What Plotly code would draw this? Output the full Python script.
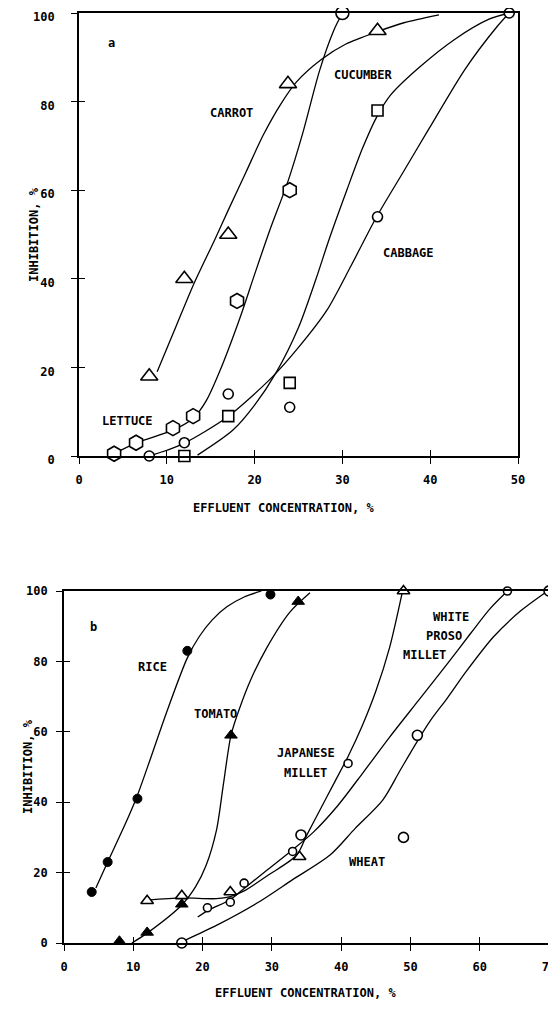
import plotly.graph_objects as go

# ---------------- Panel a data ----------------
carrot_x = [8, 12, 17, 23.8, 34]
carrot_y = [18, 40, 50, 84, 96]
carrot_cx = [8.9, 11, 13, 15.5, 17, 19, 21, 23, 24.8, 27.6, 30.4, 34, 37, 41]
carrot_cy = [19, 29, 38.5, 49, 55.5, 64, 72.5, 79.5, 84.5, 89.5, 93, 95.8, 97.8, 99.6]

lettuce_x = [4, 6.5, 10.7, 13, 18, 24]
lettuce_y = [0.5, 3, 6.3, 9, 35, 60]
lettuce_top_x = [30]
lettuce_top_y = [100]
lettuce_cx = [4, 6.6, 10.9, 13, 14.5, 16, 18.3, 20, 21.7, 23.8, 25.5, 27.4, 29, 30]
lettuce_cy = [0.5, 3, 6, 8.5, 12.5, 19, 31, 41, 50.8, 62, 73, 87, 96, 100]

cucumber_x = [12, 17, 24, 34]
cucumber_y = [0, 9, 16.5, 78]
cucumber_cx = [13.5, 17.5, 20, 22.5, 25, 27, 28.5, 30.5, 32.3, 33.9, 35.5, 38.8, 42.9, 46.7, 49]
cucumber_cy = [0.2, 5.8, 11.5, 19, 29, 40, 49, 60, 69.5, 76.5, 81.5, 87.8, 94.2, 98.6, 100]

cabbage_x = [8, 12, 17, 24, 34, 49]
cabbage_y = [0, 3, 14, 11, 54, 100]
cabbage_cx = [8, 10, 12, 16.9, 22, 25, 28.2, 31, 33.9, 36.9, 39.9, 44, 47.6, 49]
cabbage_cy = [0, 1.3, 2.9, 8.8, 17.8, 24.5, 32.8, 43, 54, 64, 74, 87.4, 96.9, 100]

# ---------------- Panel b data ----------------
rice_x = [4, 6.3, 10.6, 17.8, 29.8]
rice_y = [14.5, 23, 41, 83, 99]
rice_cx = [4.6, 6.3, 9, 10.6, 12.5, 14.8, 17.8, 19.5, 21.4, 23.5, 26, 28.5]
rice_cy = [15.6, 23, 34.5, 42, 52.5, 65.5, 81, 87, 91.8, 95.5, 98.3, 100]

tomato_x = [8, 12, 17, 24.1, 33.8]
tomato_y = [0.5, 3, 11, 59, 97]
tomato_cx = [9.8, 12, 17, 19, 20.5, 22, 23, 24.1, 25.4, 27, 29.3, 32.6, 35.5]
tomato_cy = [0, 2.8, 10.8, 16, 22, 32, 45, 59, 67, 75, 84, 94, 99.5]

jmillet_x = [12, 17, 24, 34, 49]
jmillet_y = [12, 13.4, 14.5, 24.5, 100]
jmillet_cx = [12, 17, 22, 24, 26, 29.5, 33.6, 35, 37, 39, 41, 43, 45, 47, 48.8]
jmillet_cy = [12.2, 12.8, 12.6, 13.2, 14.8, 19.3, 25, 30.5, 38, 45.5, 53, 61.5, 71.5, 84, 99.4]

wpm_x = [20.7, 24, 26, 33, 41, 64]
wpm_y = [10, 11.6, 17, 26, 51, 100]
wpm_cx = [19.3, 21, 24, 26, 29.5, 33, 36, 39.5, 43.2, 47, 51.2, 55.4, 58.7, 61.5, 64]
wpm_cy = [7.4, 9.5, 12.3, 15.5, 21, 26.5, 31.5, 39, 48.5, 58.5, 69, 79.5, 88, 95, 100]

wheat_x = [17, 34.2, 49, 51, 70]
wheat_y = [0, 30.7, 30, 59, 100]
wheat_cx = [17.6, 22, 28, 33, 38.4, 42, 46, 48.5, 50.9, 53, 55.3, 58, 62, 66, 69.5]
wheat_cy = [0.9, 5, 11.5, 18, 25, 32.5, 40.6, 49, 57, 63.5, 69.5, 77, 87, 94.5, 99.6]

ticks_a_x = [0, 10, 20, 30, 40, 50]
ticks_b_x = [0, 10, 20, 30, 40, 50, 60, 70]
ticks_y = [0, 20, 40, 60, 80, 100]

# page is 556x1009; the html body has an 8px margin
OFF = 8
W, H = 556 - OFF, 1009 - 2 * OFF
FONT = "DejaVu Sans Mono"


def fx(px):
    return (px - OFF) / W


def fy(py):
    return 1 - (py - OFF) / H


fig = go.Figure()


def curve(xs, ys, ax, dash="solid"):
    fig.add_trace(go.Scatter(x=xs, y=ys, mode="lines", xaxis=ax[0], yaxis=ax[1],
                             line=dict(color="black", width=1.3, shape="spline",
                                       smoothing=0.8, dash=dash),
                             hoverinfo="skip", showlegend=False))


def marks(xs, ys, ax, symbol, size, fill="white", lw=1.6):
    fig.add_trace(go.Scatter(x=xs, y=ys, mode="markers", xaxis=ax[0], yaxis=ax[1],
                             marker=dict(symbol=symbol, size=size, color=fill,
                                         line=dict(color="black", width=lw)),
                             cliponaxis=False, showlegend=False))


A = ("x", "y")
B = ("x2", "y2")

curve(carrot_cx, carrot_cy, A)
curve(lettuce_cx, lettuce_cy, A)
curve(cucumber_cx, cucumber_cy, A)
curve(cabbage_cx, cabbage_cy, A)
curve(rice_cx, rice_cy, B)
curve(tomato_cx, tomato_cy, B)
curve(jmillet_cx, jmillet_cy, B)
curve(wpm_cx, wpm_cy, B)
curve(wheat_cx, wheat_cy, B)

marks(carrot_x, carrot_y, A, "triangle-up", 15)
marks(lettuce_x, lettuce_y, A, "hexagon", 15)
marks(lettuce_top_x, lettuce_top_y, A, "circle", 13)
marks(cucumber_x, cucumber_y, A, "square", 11)
marks(cabbage_x, cabbage_y, A, "circle", 10)

marks(rice_x, rice_y, B, "circle", 9, fill="black", lw=1)
marks(tomato_x, tomato_y, B, "triangle-up", 11, fill="black", lw=1)
marks(jmillet_x, jmillet_y, B, "triangle-up", 11)
marks(wpm_x, wpm_y, B, "circle", 8)
marks(wheat_x, wheat_y, B, "circle", 10)

fig.add_trace(go.Scatter(x=[None], y=[None], xaxis="x3", yaxis="y3", showlegend=False))
fig.add_trace(go.Scatter(x=[None], y=[None], xaxis="x4", yaxis="y4", showlegend=False))

ax_a_x = [fx(79), fx(518)]
ax_a_y = [fy(456), fy(13)]
ax_b_x = [fx(64), fx(549)]
ax_b_y = [fy(943), fy(591)]

tickfont = dict(family=FONT, size=12, color="black", weight="bold")


def main_axis(domain, rng, tv, anchor, standoff, shift=0):
    return dict(domain=domain, range=rng, tickvals=tv, ticks="outside", ticklen=6,
                tickwidth=1.3, tickcolor="black", showline=True, linecolor="black",
                linewidth=1.6, mirror=True, showgrid=False, zeroline=False,
                tickfont=tickfont, anchor=anchor, ticklabelstandoff=standoff,
                ticklabelshift=shift, ticklabeloverflow="allow", automargin=False,
                fixedrange=True)


def over_axis(rng, tv, overlay, anchor):
    return dict(range=rng, tickvals=tv, ticks="inside", ticklen=6, tickwidth=1.3,
                tickcolor="black", showticklabels=False, showline=False,
                showgrid=False, zeroline=False, overlaying=overlay, anchor=anchor,
                automargin=False, fixedrange=True)


fig.update_layout(
    width=W, height=H, margin=dict(l=0, r=0, t=0, b=0, autoexpand=False),
    paper_bgcolor="white", plot_bgcolor="white", showlegend=False,
    xaxis=main_axis(ax_a_x, [0, 50], ticks_a_x, "y", 6),
    yaxis=main_axis(ax_a_y, [0, 100], ticks_y, "x", 14, shift=4),
    xaxis2=main_axis(ax_b_x, [0, 70], ticks_b_x, "y2", 6),
    yaxis2=main_axis(ax_b_y, [0, 100], ticks_y, "x2", 6),
    xaxis3=over_axis([0, 50], ticks_a_x, "x", "y"),
    yaxis3=over_axis([0, 100], ticks_y, "y", "x"),
    xaxis4=over_axis([0, 70], ticks_b_x, "x2", "y2"),
    yaxis4=over_axis([0, 100], ticks_y, "y2", "x2"),
)

lab = dict(family=FONT, size=12, color="black", weight="bold")


def ann(text, px, py, xanchor="center", textangle=0):
    fig.add_annotation(text=text, x=fx(px), y=fy(py), xref="paper", yref="paper",
                       showarrow=False, font=lab, xanchor=xanchor, yanchor="middle",
                       textangle=textangle)


ann("a", 111, 43)
ann("CARROT", 231, 113)
ann("CUCUMBER", 363, 75)
ann("LETTUCE", 127, 421)
ann("CABBAGE", 408, 253)
ann("INHIBITION, %", 34, 235, textangle=-90)
ann("EFFLUENT CONCENTRATION, %", 283, 508)

ann("b", 93, 627)
ann("RICE", 152, 667)
ann("TOMATO", 215, 714)
ann("JAPANESE", 306, 753)
ann("MILLET", 306, 773)
ann("WHITE", 471, 617, xanchor="right")
ann("PROSO", 464, 636, xanchor="right")
ann("MILLET", 448, 655, xanchor="right")
ann("WHEAT", 367, 862)
ann("INHIBITION, %", 28, 767, textangle=-90)
ann("EFFLUENT CONCENTRATION, %", 306, 993)

fig.write_html("out.html")
